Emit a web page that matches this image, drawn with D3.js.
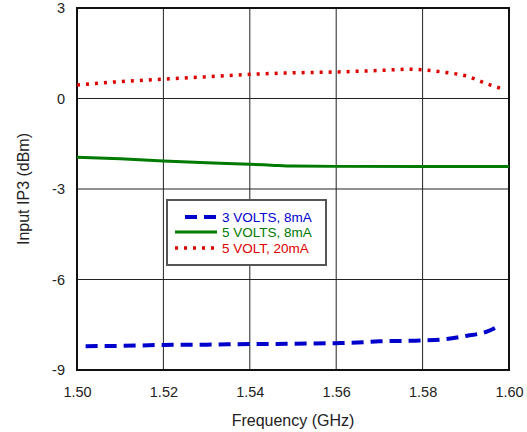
<!DOCTYPE html>
<html>
<head>
<meta charset="utf-8">
<script src="https://cdnjs.cloudflare.com/ajax/libs/d3/7.8.5/d3.min.js"></script>
<style>
  body { margin: 0; background: #fff; }
  text { font-family: "Liberation Sans", Arial, sans-serif; }
</style>
</head>
<body>
<script>
// chart data
var freqTicks = [1.50, 1.52, 1.54, 1.56, 1.58, 1.60];
var ipTicks = [3, 0, -3, -6, -9];

var seriesNames = ["3 VOLTS, 8mA", "5 VOLTS, 8mA", "5 VOLT, 20mA"];

var freq3v8 = [1.502, 1.51, 1.52, 1.53, 1.54, 1.55, 1.56, 1.565, 1.57, 1.58, 1.585, 1.59, 1.595, 1.598];
var ip3v8 = [-8.21, -8.2, -8.17, -8.16, -8.14, -8.13, -8.11, -8.09, -8.05, -8.02, -7.98, -7.87, -7.72, -7.51];

var freq5v8 = [1.50, 1.51, 1.52, 1.53, 1.54, 1.545, 1.55, 1.56, 1.58, 1.60];
var ip5v8 = [-1.95, -2.0, -2.07, -2.13, -2.18, -2.21, -2.24, -2.25, -2.25, -2.25];

var freq5v20 = [1.50, 1.51, 1.52, 1.53, 1.54, 1.55, 1.56, 1.57, 1.577, 1.58, 1.585, 1.59, 1.595, 1.598];
var ip5v20 = [0.45, 0.56, 0.64, 0.72, 0.80, 0.85, 0.88, 0.93, 0.97, 0.95, 0.87, 0.75, 0.48, 0.34];

var svgWidth = 527;
var svgHeight = 432;

var margin = { top: 8, right: 18, bottom: 62, left: 77 };
var chartWidth = svgWidth - margin.left - margin.right;
var chartHeight = svgHeight - margin.top - margin.bottom;

var svg = d3.select("body")
  .append("svg")
  .attr("width", svgWidth)
  .attr("height", svgHeight);

var chartGroup = svg.append("g")
  .attr("transform", `translate(${margin.left}, ${margin.top})`);

var xScale = d3.scaleLinear().domain([1.50, 1.60]).range([0, chartWidth]);
var yScale = d3.scaleLinear().domain([-9, 3]).range([chartHeight, 0]);

// grid lines
chartGroup.append("g")
  .selectAll("line.vgrid")
  .data(freqTicks.slice(1, -1))
  .enter()
  .append("line")
  .attr("x1", d => xScale(d))
  .attr("x2", d => xScale(d))
  .attr("y1", 0)
  .attr("y2", chartHeight)
  .attr("stroke", "#222")
  .attr("stroke-width", 1);

chartGroup.append("g")
  .selectAll("line.hgrid")
  .data(ipTicks.slice(1, -1))
  .enter()
  .append("line")
  .attr("x1", 0)
  .attr("x2", chartWidth)
  .attr("y1", d => yScale(d))
  .attr("y2", d => yScale(d))
  .attr("stroke", "#222")
  .attr("stroke-width", 1);

// axes
var bottomAxis = d3.axisBottom(xScale)
  .tickValues(freqTicks)
  .tickFormat(d3.format(".2f"))
  .tickSize(0)
  .tickPadding(17);
var leftAxis = d3.axisLeft(yScale)
  .tickValues(ipTicks)
  .tickFormat(d => d < 0 ? "-" + Math.abs(d) : d)
  .tickSize(0)
  .tickPadding(12);

var xAxisG = chartGroup.append("g")
  .attr("transform", `translate(0, ${chartHeight})`)
  .call(bottomAxis);
var yAxisG = chartGroup.append("g").call(leftAxis);

[xAxisG, yAxisG].forEach(function(g) {
  g.select(".domain").remove();
  g.selectAll("text")
    .attr("font-size", 14.5)
    .attr("fill", "#222")
    .style("font-family", "Liberation Sans, Arial, sans-serif");
});

// frame
chartGroup.append("rect")
  .attr("x", 0)
  .attr("y", 0)
  .attr("width", chartWidth)
  .attr("height", chartHeight)
  .attr("fill", "none")
  .attr("stroke", "#111")
  .attr("stroke-width", 2);

// series
var drawLine = d3.line()
  .x(d => xScale(d[0]))
  .y(d => yScale(d[1]))
  .curve(d3.curveMonotoneX);

var series = [
  { x: freq3v8, y: ip3v8, color: "#0000cc", dash: "12,7", width: 4 },
  { x: freq5v8, y: ip5v8, color: "#007a00", dash: null, width: 3 },
  { x: freq5v20, y: ip5v20, color: "#dd0000", dash: "3,6", width: 3.5 }
];

series.forEach(function(s) {
  chartGroup.append("path")
    .datum(s.x.map((f, i) => [f, s.y[i]]))
    .attr("d", drawLine)
    .attr("fill", "none")
    .attr("stroke", s.color)
    .attr("stroke-width", s.width)
    .attr("stroke-dasharray", s.dash);
});

// legend
var legend = svg.append("g").attr("transform", "translate(167, 200)");
legend.append("rect")
  .attr("width", 159)
  .attr("height", 65)
  .attr("fill", "#fff")
  .attr("stroke", "#555")
  .attr("stroke-width", 2);

var legendRows = [17, 32, 48];
var legendStart = [18, 8, 8];
series.forEach(function(s, i) {
  legend.append("line")
    .attr("x1", legendStart[i])
    .attr("x2", 50)
    .attr("y1", legendRows[i])
    .attr("y2", legendRows[i])
    .attr("stroke", s.color)
    .attr("stroke-width", s.width)
    .attr("stroke-dasharray", s.dash);
  legend.append("text")
    .attr("x", 55)
    .attr("y", legendRows[i])
    .attr("dy", "0.35em")
    .attr("font-size", 13.5)
    .attr("fill", s.color)
    .text(seriesNames[i]);
});

// axis titles
svg.append("text")
  .attr("x", margin.left + chartWidth / 2)
  .attr("y", 426)
  .attr("text-anchor", "middle")
  .attr("font-size", 16)
  .attr("fill", "#222")
  .text("Frequency (GHz)");

svg.append("text")
  .attr("transform", `translate(29, 189) rotate(-90)`)
  .attr("text-anchor", "middle")
  .attr("font-size", 16)
  .attr("fill", "#222")
  .text("Input IP3 (dBm)");
</script>
</body>
</html>
